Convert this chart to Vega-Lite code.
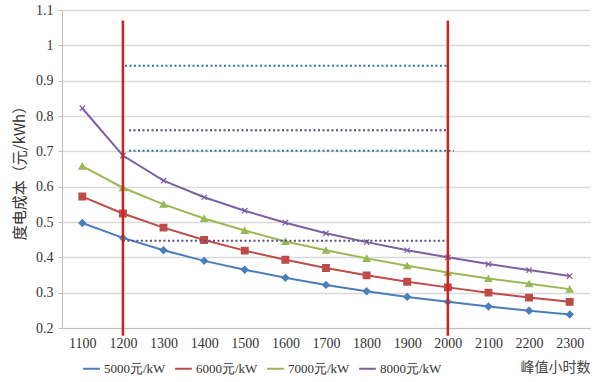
{
  "$schema": "https://vega.github.io/schema/vega-lite/v6.json",
  "width": 528,
  "height": 318,
  "autosize": "none",
  "padding": {"left": 62, "top": 10, "right": 10, "bottom": 54},
  "background": "white",
  "config": {
    "view": {"stroke": null}
  },
  "datasets": {
    "cost": [
      {"h": 1100, "s": "5000元/kW", "v": 0.497}, {"h": 1200, "s": "5000元/kW", "v": 0.455}, {"h": 1300, "s": "5000元/kW", "v": 0.42}, {"h": 1400, "s": "5000元/kW", "v": 0.39}, {"h": 1500, "s": "5000元/kW", "v": 0.365}, {"h": 1600, "s": "5000元/kW", "v": 0.342}, {"h": 1700, "s": "5000元/kW", "v": 0.322}, {"h": 1800, "s": "5000元/kW", "v": 0.304}, {"h": 1900, "s": "5000元/kW", "v": 0.288}, {"h": 2000, "s": "5000元/kW", "v": 0.274}, {"h": 2100, "s": "5000元/kW", "v": 0.261}, {"h": 2200, "s": "5000元/kW", "v": 0.249}, {"h": 2300, "s": "5000元/kW", "v": 0.238},
      {"h": 1100, "s": "6000元/kW", "v": 0.572}, {"h": 1200, "s": "6000元/kW", "v": 0.524}, {"h": 1300, "s": "6000元/kW", "v": 0.484}, {"h": 1400, "s": "6000元/kW", "v": 0.449}, {"h": 1500, "s": "6000元/kW", "v": 0.419}, {"h": 1600, "s": "6000元/kW", "v": 0.393}, {"h": 1700, "s": "6000元/kW", "v": 0.37}, {"h": 1800, "s": "6000元/kW", "v": 0.349}, {"h": 1900, "s": "6000元/kW", "v": 0.331}, {"h": 2000, "s": "6000元/kW", "v": 0.315}, {"h": 2100, "s": "6000元/kW", "v": 0.3}, {"h": 2200, "s": "6000元/kW", "v": 0.286}, {"h": 2300, "s": "6000元/kW", "v": 0.274},
      {"h": 1100, "s": "7000元/kW", "v": 0.658}, {"h": 1200, "s": "7000元/kW", "v": 0.597}, {"h": 1300, "s": "7000元/kW", "v": 0.55}, {"h": 1400, "s": "7000元/kW", "v": 0.51}, {"h": 1500, "s": "7000元/kW", "v": 0.476}, {"h": 1600, "s": "7000元/kW", "v": 0.445}, {"h": 1700, "s": "7000元/kW", "v": 0.42}, {"h": 1800, "s": "7000元/kW", "v": 0.397}, {"h": 1900, "s": "7000元/kW", "v": 0.376}, {"h": 2000, "s": "7000元/kW", "v": 0.357}, {"h": 2100, "s": "7000元/kW", "v": 0.34}, {"h": 2200, "s": "7000元/kW", "v": 0.325}, {"h": 2300, "s": "7000元/kW", "v": 0.31},
      {"h": 1100, "s": "8000元/kW", "v": 0.822}, {"h": 1200, "s": "8000元/kW", "v": 0.688}, {"h": 1300, "s": "8000元/kW", "v": 0.617}, {"h": 1400, "s": "8000元/kW", "v": 0.57}, {"h": 1500, "s": "8000元/kW", "v": 0.532}, {"h": 1600, "s": "8000元/kW", "v": 0.498}, {"h": 1700, "s": "8000元/kW", "v": 0.468}, {"h": 1800, "s": "8000元/kW", "v": 0.443}, {"h": 1900, "s": "8000元/kW", "v": 0.42}, {"h": 2000, "s": "8000元/kW", "v": 0.4}, {"h": 2100, "s": "8000元/kW", "v": 0.381}, {"h": 2200, "s": "8000元/kW", "v": 0.364}, {"h": 2300, "s": "8000元/kW", "v": 0.347}
    ],
    "refs": [
      {"v": 0.942, "h": 1205, "h2": 2000, "c": "teal"},
      {"v": 0.760, "h": 1215, "h2": 2000, "c": "purple"},
      {"v": 0.702, "h": 1215, "h2": 2015, "c": "teal"},
      {"v": 0.447, "h": 1200, "h2": 2000, "c": "purple"}
    ],
    "vlines": [{"h": 1200, "v": 1.07, "v2": 0.178}, {"h": 2000, "v": 1.07, "v2": 0.178}]
  },
  "encoding": {
    "x": {"field": "h", "type": "quantitative", "scale": {"domain": [1050, 2350], "nice": false, "zero": false},
      "axis": {"values": [1100, 1200, 1300, 1400, 1500, 1600, 1700, 1800, 1900, 2000, 2100, 2200, 2300], "format": "d", "grid": false, "ticks": false, "domainColor": "#bfbfbf", "labelPadding": 8, "labelFont": "Liberation Serif", "labelFontSize": 14, "labelColor": "#333333", "labelOverlap": false, "title": "峰值小时数", "titleFont": "Noto Sans CJK SC", "titleFontSize": 14, "titleFontWeight": "normal", "titleAnchor": "end", "titlePadding": 10, "titleColor": "#444444"}},
    "y": {"field": "v", "type": "quantitative", "scale": {"domain": [0.2, 1.1], "nice": false, "zero": false},
      "axis": {"values": [0.2, 0.3, 0.4, 0.5, 0.6, 0.7, 0.8, 0.9, 1, 1.1], "format": ".1~f", "labelOverlap": false, "labelFont": "Liberation Serif", "labelFontSize": 14, "labelColor": "#333333", "gridColor": "#d9d9d9", "gridWidth": 1.5, "domainColor": "#bfbfbf", "tickColor": "#bfbfbf", "tickSize": 4, "labelPadding": 5, "title": "度电成本（元/kWh）", "titleFont": "Noto Sans CJK SC", "titleFontSize": 15, "titleFontWeight": "normal", "titleColor": "#333333", "titlePadding": 8}}
  },
  "layer": [
    {
      "data": {"name": "cost"},
      "mark": {"type": "line", "strokeWidth": 2},
      "encoding": {
        "color": {"field": "s", "type": "nominal",
          "scale": {"domain": ["5000元/kW", "6000元/kW", "7000元/kW", "8000元/kW"], "range": ["#4a7ebb", "#be4b48", "#98b954", "#7d60a0"]},
          "legend": {"orient": "none", "legendX": 20, "legendY": 349, "direction": "horizontal", "columns": 4, "columnPadding": 5, "title": null, "symbolType": "stroke", "symbolSize": 280, "symbolStrokeWidth": 2, "labelOffset": 3, "labelFont": "Liberation Serif", "labelFontSize": 13, "labelColor": "#333333"}}
      }
    },
    {
      "data": {"name": "cost"},
      "mark": {"type": "point", "filled": true, "size": 45, "strokeWidth": 1.2, "opacity": 1},
      "encoding": {
        "fill": {"field": "s", "type": "nominal", "scale": {"domain": ["5000元/kW", "6000元/kW", "7000元/kW", "8000元/kW"], "range": ["#4a7ebb", "#be4b48", "#98b954", "#7d60a0"]}, "legend": null},
        "stroke": {"field": "s", "type": "nominal", "scale": {"domain": ["5000元/kW", "6000元/kW", "7000元/kW", "8000元/kW"], "range": ["#4a7ebb", "#be4b48", "#98b954", "#7d60a0"]}, "legend": null},
        "shape": {"field": "s", "type": "nominal", "scale": {"domain": ["5000元/kW", "6000元/kW", "7000元/kW", "8000元/kW"], "range": ["diamond", "square", "triangle-up", "M-0.8,-0.8L0.8,0.8M-0.8,0.8L0.8,-0.8"]}, "legend": null}
      }
    },
    {
      "data": {"name": "refs"},
      "transform": [{"filter": "datum.c === 'teal'"}],
      "mark": {"type": "rule", "strokeWidth": 2, "strokeDash": [2, 2.5], "color": "#2f7a9e"},
      "encoding": {"x2": {"field": "h2"}}
    },
    {
      "data": {"name": "refs"},
      "transform": [{"filter": "datum.c === 'purple'"}],
      "mark": {"type": "rule", "strokeWidth": 2, "strokeDash": [2, 2.5], "color": "#5e4a80"},
      "encoding": {"x2": {"field": "h2"}}
    },
    {
      "data": {"name": "vlines"},
      "mark": {"type": "rule", "strokeWidth": 2.5, "color": "#d02020"},
      "encoding": {"y2": {"field": "v2"}}
    }
  ],
  "resolve": {"legend": {"shape": "independent", "fill": "independent", "stroke": "independent"}}
}
